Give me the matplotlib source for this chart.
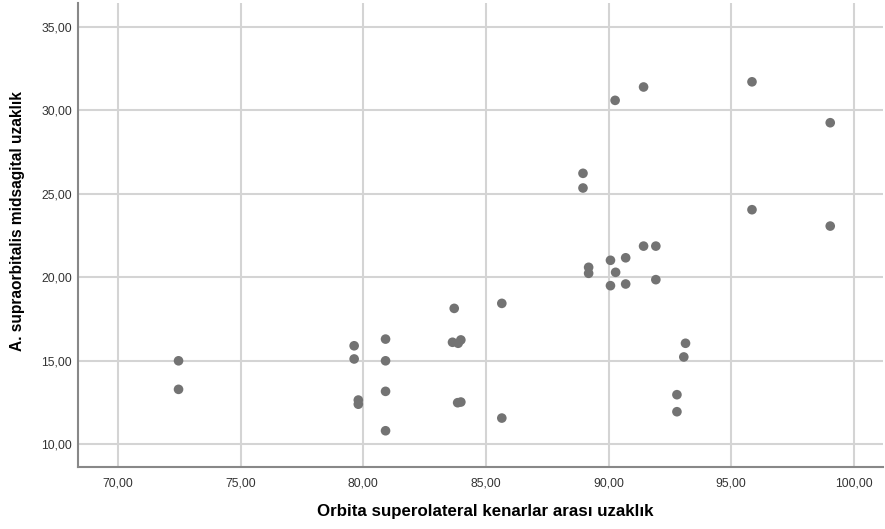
import matplotlib
matplotlib.use('Agg')
import matplotlib.pyplot as plt
from matplotlib.ticker import FuncFormatter

# Orbita superolateral kenarlar arası uzaklık (x) / A. supraorbitalis midsagital uzaklık (y)
orbita = [72.47, 72.47, 79.63, 79.63, 79.80, 79.80, 80.91, 80.91, 80.91, 80.91,
          83.71, 83.64, 83.87, 83.98, 83.85, 83.98, 85.65, 85.65,
          88.96, 88.96, 89.19, 89.19, 90.08, 90.08, 90.29, 90.27, 90.70, 90.70,
          91.43, 91.43, 91.93, 91.93, 92.79, 92.79, 93.14, 93.07,
          95.85, 95.85, 99.04, 99.04]
supraorb = [15.00, 13.29, 15.90, 15.11, 12.65, 12.40, 16.30, 15.00, 13.17, 10.81,
            18.14, 16.11, 16.05, 16.25, 12.49, 12.53, 18.44, 11.57,
            26.23, 25.35, 20.60, 20.24, 21.02, 19.50, 20.30, 30.60, 21.17, 19.60,
            21.87, 31.40, 21.87, 19.86, 12.97, 11.95, 16.05, 15.23,
            31.71, 24.05, 29.26, 23.07]

x_ticks = [70, 75, 80, 85, 90, 95, 100]
y_ticks = [10, 15, 20, 25, 30, 35]

plt.rcParams['font.family'] = ['Liberation Sans', 'DejaVu Sans']

fig = plt.figure(figsize=(8.85, 5.29), dpi=100)
ax = fig.add_axes([0.0881, 0.1166, 0.9096, 0.8777])

ax.scatter(orbita, supraorb, s=48, color='#737373', edgecolors='none', zorder=3)

ax.set_xlim(68.37, 101.19)
ax.set_ylim(8.62, 36.43)
ax.set_xticks(x_ticks)
ax.set_yticks(y_ticks)
comma = FuncFormatter(lambda v, p: f'{v:.2f}'.replace('.', ','))
ax.xaxis.set_major_formatter(comma)
ax.yaxis.set_major_formatter(comma)
ax.tick_params(length=0, labelsize=8.7, colors='#333333')
ax.tick_params(axis='x', pad=7)
ax.tick_params(axis='y', pad=4.3)

ax.grid(True, color='#d4d4d4', linewidth=1.5, zorder=0)
ax.set_axisbelow(True)
for side in ['top', 'right']:
    ax.spines[side].set_visible(False)
for side in ['left', 'bottom']:
    ax.spines[side].set_color('#888888')
    ax.spines[side].set_linewidth(1.5)

# axis titles placed like the SPSS output
fig.text(0.5486, 0.0327, 'Orbita superolateral kenarlar arası uzaklık',
         fontsize=12.2, fontweight='bold', ha='center', va='center')
fig.text(0.0203, 0.582, 'A. supraorbitalis midsagital uzaklık',
         fontsize=11.2, fontweight='bold', ha='center', va='center',
         rotation=90)

fig.savefig('out.png', dpi=100)
